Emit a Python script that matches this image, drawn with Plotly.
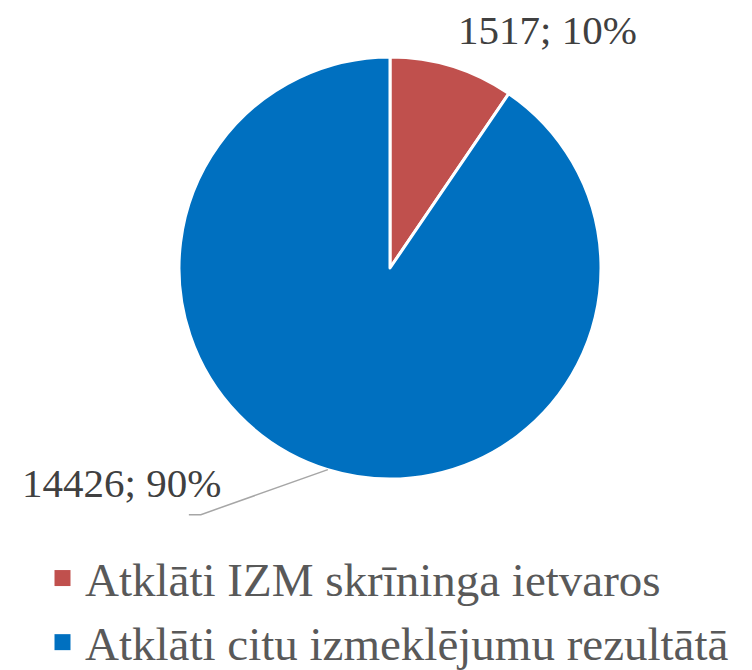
import math
import plotly.graph_objects as go

categories = ["Atklāti IZM skrīninga ietvaros", "Atklāti citu izmeklējumu rezultātā"]
values = [1517, 14426]
colors = ["#C0504D", "#0070C0"]

# the page body has an 8px default margin; size the figure to fill the rest of the window
OFF = 8
W, H = 752 - OFF, 670 - OFF
CX, CY, R = 390 - OFF, 268 - OFF, 211  # pie centre / radius in figure px

total = sum(values)
pct = [round(v / total * 100) for v in values]
labels_txt = [f"{v}; {p}%" for v, p in zip(values, pct)]

SERIF = "Liberation Serif"

fig = go.Figure()
fig.add_trace(go.Pie(
    labels=categories, values=values, sort=False, direction="clockwise", rotation=0,
    marker=dict(colors=colors, line=dict(color="white", width=3)),
    textinfo="none", hoverinfo="label+value+percent", showlegend=False,
    domain=dict(x=[(CX - R) / W, (CX + R) / W], y=[1 - (CY + R) / H, 1 - (CY - R) / H]),
))

# legend proxies
for name, c in zip(categories, colors):
    fig.add_trace(go.Scatter(x=[None], y=[None], mode="markers", name=name,
                             marker=dict(symbol="square", size=16, color=c)))

cum = 0
mids = []
for v in values:
    a = (cum + v / 2) / total * 2 * math.pi
    mids.append(a)
    cum += v

annotations = []
shapes = []
# slice 1 label (top-right)
a = mids[0]
ex, ey = CX + R * math.sin(a), CY - R * math.cos(a)
annotations.append(dict(x=ex / W, y=1 - ey / H, xref="paper", yref="paper", text=labels_txt[0],
                        showarrow=False, xshift=95, yshift=36, xanchor="center", yanchor="middle",
                        font=dict(family=SERIF, size=41, color="#404040")))
# slice 2 label (bottom-left) with leader line
a = mids[1]
ex, ey = CX + R * math.sin(a), CY - R * math.cos(a)
kx, ky = ex - 127, ey + 45
lx = kx - 12
shapes.append(dict(type="path", xref="paper", yref="paper",
                   path=f"M{ex / W},{1 - ey / H} L{kx / W},{1 - ky / H} L{lx / W},{1 - ky / H}",
                   line=dict(color="#A6A6A6", width=1.5)))
annotations.append(dict(x=ex / W, y=1 - ey / H, xref="paper", yref="paper", text=labels_txt[1],
                        showarrow=False, xshift=-105, yshift=-13, xanchor="right", yanchor="middle",
                        font=dict(family=SERIF, size=41, color="#404040")))

fig.update_layout(
    width=W, height=H, margin=dict(l=0, r=0, t=0, b=0, autoexpand=False),
    paper_bgcolor="white", plot_bgcolor="white",
    xaxis=dict(visible=False), yaxis=dict(visible=False),
    annotations=annotations, shapes=shapes,
    legend=dict(x=32 / W, xanchor="left", y=1 - 533 / H, yanchor="top",
                font=dict(family=SERIF, size=47, color="#595959"),
                itemwidth=35, bgcolor="rgba(0,0,0,0)"),
)

fig.write_html("out.html")
